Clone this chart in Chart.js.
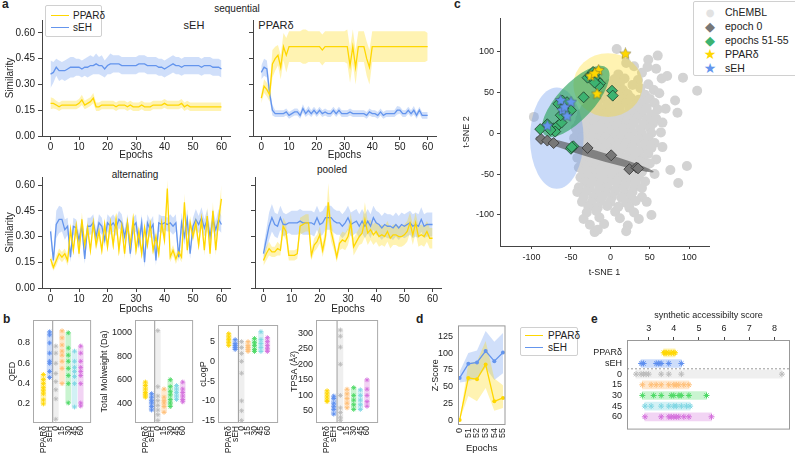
<!DOCTYPE html>
<html>
<head>
<meta charset="utf-8">
<title>Figure</title>
<script src="https://cdn.jsdelivr.net/npm/chart.js@4.4.1/dist/chart.umd.min.js"></script>
<style>
  body { margin: 0; width: 795px; height: 459px; position: relative; overflow: hidden; background: #fff;
         font-family: "Liberation Sans", Arial, sans-serif; color: #222; }
  canvas { position: absolute; }
  .txt { position: absolute; white-space: nowrap; transform: translate(-50%, -50%); font-size: 10px; }
  .panel { position: absolute; font-weight: bold; font-size: 12px; }
  .legend { position: absolute; border: 1px solid #d0d0d0; background: rgba(255,255,255,0.9); border-radius: 2px; }
  .legend div { position: absolute; white-space: nowrap; transform: translateY(-50%); }
  .legend .sym { font-family: "DejaVu Sans", sans-serif; transform: translate(-50%, -50%); }
  .legend .ln { height: 0; transform: none; }
</style>
</head>
<body>

<div class="panel" style="left:2px;top:-3px">a</div>
<div class="panel" style="left:3px;top:312px">b</div>
<div class="panel" style="left:454px;top:-3px">c</div>
<div class="panel" style="left:416px;top:312px">d</div>
<div class="panel" style="left:591px;top:312px">e</div>

<div class="txt" style="left:237px;top:8px">sequential</div>
<div class="txt" style="left:194px;top:25px;font-size:11px">sEH</div>
<div class="txt" style="left:276px;top:25px;font-size:11px">PPARδ</div>
<div class="txt" style="left:135px;top:174px">alternating</div>
<div class="txt" style="left:332px;top:169px">pooled</div>

<!-- legend panel a -->
<div class="legend" style="left:45px;top:5px;width:55px;height:30px;font-size:10px">
  <div class="ln" style="left:5px;top:9px;width:18px;border-top:1.5px solid #FFD700"></div>
  <div style="left:27px;top:9px">PPARδ</div>
  <div class="ln" style="left:5px;top:21px;width:18px;border-top:1.5px solid #6495ED"></div>
  <div style="left:27px;top:21px">sEH</div>
</div>

<!-- legend panel c -->
<div class="legend" style="left:693px;top:1px;width:110px;height:73px;font-size:10.5px">
  <div class="sym" style="left:16px;top:10px;color:#e2e2e2;font-size:10px">●</div>
  <div style="left:31px;top:10px">ChEMBL</div>
  <div class="sym" style="left:16px;top:24px;color:#777;font-size:13px">◆</div>
  <div style="left:31px;top:24px">epoch 0</div>
  <div class="sym" style="left:16px;top:38px;color:#3cb371;font-size:13px">◆</div>
  <div style="left:31px;top:38px">epochs 51-55</div>
  <div class="sym" style="left:16px;top:52px;color:#FFD700;font-size:14px">★</div>
  <div style="left:31px;top:52px">PPARδ</div>
  <div class="sym" style="left:16px;top:66px;color:#6495ED;font-size:14px">★</div>
  <div style="left:31px;top:66px">sEH</div>
</div>

<!-- legend panel d -->
<div class="legend" style="left:520px;top:327px;width:56px;height:27px;font-size:10px">
  <div class="ln" style="left:4px;top:7px;width:18px;border-top:1.5px solid #FFD700"></div>
  <div style="left:27px;top:7px">PPARδ</div>
  <div class="ln" style="left:4px;top:19px;width:18px;border-top:1.5px solid #6495ED"></div>
  <div style="left:27px;top:19px">sEH</div>
</div>

<script>
// ---------- data: panel a (similarity per epoch, mean and spread) ----------
const epochs = Array.from({ length: 61 }, (_, i) => i);
const epochTicks = [0, 10, 20, 30, 40, 50, 60];
const simTicks = [0, 0.15, 0.30, 0.45, 0.60];

const seqSehBlue = [0.36,0.37,0.40,0.38,0.38,0.38,0.39,0.40,0.40,0.40,
  0.40,0.39,0.40,0.40,0.41,0.41,0.42,0.41,0.41,0.39,
  0.41,0.42,0.42,0.42,0.42,0.41,0.41,0.41,0.41,0.41,
  0.41,0.42,0.42,0.42,0.41,0.41,0.41,0.41,0.40,0.40,
  0.39,0.40,0.41,0.42,0.41,0.41,0.40,0.41,0.41,0.41,
  0.41,0.41,0.41,0.40,0.41,0.41,0.41,0.40,0.40,0.40,0.39];
const seqSehBlueSd = [0.08,0.06,0.05,0.06,0.05,0.06,0.06,0.06,0.06,0.05,
  0.05,0.05,0.05,0.06,0.06,0.05,0.06,0.05,0.06,0.05,
  0.05,0.06,0.05,0.05,0.05,0.05,0.05,0.05,0.05,0.05,
  0.05,0.05,0.05,0.05,0.05,0.05,0.05,0.05,0.05,0.05,
  0.05,0.05,0.05,0.05,0.05,0.05,0.05,0.05,0.05,0.05,
  0.05,0.05,0.05,0.05,0.05,0.05,0.05,0.05,0.05,0.05,0.05];
const seqSehYellow = [0.19,0.19,0.18,0.17,0.18,0.18,0.18,0.18,0.18,0.18,
  0.19,0.21,0.18,0.19,0.20,0.22,0.17,0.17,0.18,0.18,
  0.18,0.18,0.18,0.17,0.18,0.18,0.18,0.17,0.18,0.17,
  0.17,0.17,0.18,0.17,0.17,0.17,0.18,0.18,0.18,0.18,
  0.19,0.18,0.18,0.18,0.18,0.18,0.19,0.17,0.18,0.17,
  0.17,0.17,0.17,0.17,0.17,0.17,0.17,0.17,0.17,0.17,0.17];
const seqSehYellowSd = [0.035,0.03,0.025,0.025,0.025,0.025,0.025,0.025,0.025,0.025,
  0.025,0.03,0.025,0.025,0.025,0.03,0.025,0.025,0.025,0.025,
  0.025,0.025,0.025,0.025,0.025,0.025,0.025,0.025,0.025,0.025,
  0.025,0.025,0.025,0.025,0.025,0.025,0.025,0.025,0.025,0.025,
  0.025,0.025,0.025,0.025,0.025,0.025,0.025,0.025,0.025,0.025,
  0.025,0.025,0.025,0.025,0.025,0.025,0.025,0.025,0.025,0.025,0.025];

const seqPparBlue = [0.37,0.40,0.39,0.25,0.15,0.13,0.13,0.13,0.13,0.14,
  0.12,0.13,0.14,0.14,0.12,0.16,0.13,0.15,0.13,0.15,
  0.13,0.15,0.13,0.14,0.13,0.13,0.15,0.13,0.15,0.13,
  0.13,0.13,0.14,0.13,0.13,0.13,0.13,0.13,0.12,0.14,
  0.13,0.13,0.12,0.14,0.12,0.13,0.13,0.13,0.13,0.15,
  0.15,0.13,0.13,0.15,0.13,0.15,0.12,0.15,0.12,0.12,0.12];
const seqPparBlueSd = [0.04,0.05,0.05,0.04,0.03,0.02,0.02,0.02,0.02,0.02,
  0.02,0.02,0.02,0.02,0.02,0.025,0.02,0.025,0.02,0.02,
  0.02,0.02,0.02,0.02,0.02,0.02,0.02,0.02,0.02,0.02,
  0.02,0.02,0.02,0.02,0.02,0.02,0.02,0.02,0.02,0.02,
  0.02,0.02,0.02,0.02,0.02,0.02,0.02,0.02,0.02,0.025,
  0.02,0.02,0.02,0.02,0.02,0.025,0.02,0.02,0.02,0.02,0.02];
const seqPparYellow = [0.22,0.29,0.27,0.24,0.42,0.45,0.47,0.40,0.52,0.47,
  0.52,0.52,0.52,0.52,0.52,0.52,0.52,0.52,0.52,0.52,
  0.52,0.52,0.50,0.52,0.52,0.52,0.52,0.52,0.52,0.52,
  0.52,0.52,0.41,0.52,0.40,0.52,0.52,0.52,0.45,0.40,
  0.52,0.52,0.52,0.52,0.52,0.52,0.52,0.52,0.52,0.52,
  0.52,0.52,0.52,0.52,0.52,0.52,0.52,0.52,0.52,0.52,0.52];
const seqPparYellowSd = [0.03,0.04,0.04,0.04,0.08,0.07,0.06,0.07,0.08,0.10,
  0.09,0.09,0.09,0.09,0.09,0.10,0.10,0.09,0.09,0.09,
  0.09,0.09,0.09,0.09,0.09,0.09,0.09,0.09,0.09,0.09,
  0.09,0.10,0.10,0.10,0.10,0.09,0.09,0.09,0.10,0.10,
  0.09,0.09,0.09,0.09,0.09,0.09,0.09,0.09,0.09,0.09,
  0.09,0.09,0.09,0.09,0.09,0.09,0.09,0.09,0.09,0.09,0.08];

const altBlue = [0.33,0.16,0.37,0.40,0.40,0.34,0.36,0.18,0.36,0.35,
  0.28,0.36,0.17,0.36,0.36,0.38,0.30,0.38,0.36,0.28,
  0.38,0.36,0.38,0.35,0.40,0.38,0.30,0.38,0.20,0.36,
  0.38,0.26,0.38,0.15,0.38,0.34,0.37,0.16,0.38,0.37,
  0.38,0.37,0.38,0.36,0.38,0.18,0.38,0.30,0.40,0.20,
  0.36,0.40,0.37,0.41,0.35,0.40,0.30,0.40,0.34,0.40,0.37];
const altBlueSd = [0.05,0.03,0.08,0.08,0.07,0.06,0.05,0.03,0.05,0.05,
  0.04,0.05,0.03,0.05,0.05,0.05,0.04,0.05,0.05,0.04,
  0.05,0.05,0.05,0.05,0.05,0.05,0.04,0.05,0.03,0.05,
  0.05,0.04,0.05,0.03,0.05,0.05,0.05,0.03,0.05,0.05,
  0.04,0.04,0.05,0.05,0.05,0.03,0.06,0.05,0.06,0.03,
  0.05,0.06,0.05,0.06,0.05,0.06,0.05,0.06,0.05,0.06,0.05];
const altYellow = [0.17,0.12,0.16,0.20,0.18,0.20,0.16,0.34,0.22,0.36,
  0.20,0.40,0.25,0.35,0.22,0.38,0.25,0.33,0.22,0.37,
  0.24,0.38,0.25,0.40,0.22,0.36,0.20,0.38,0.25,0.40,
  0.22,0.33,0.20,0.35,0.25,0.37,0.22,0.30,0.20,0.38,
  0.28,0.58,0.18,0.22,0.17,0.21,0.18,0.50,0.22,0.38,
  0.30,0.38,0.25,0.40,0.22,0.42,0.20,0.45,0.22,0.40,0.52];
const altYellowSd = [0.03,0.02,0.03,0.03,0.03,0.03,0.03,0.04,0.03,0.04,
  0.03,0.04,0.03,0.04,0.03,0.04,0.03,0.04,0.03,0.04,
  0.03,0.04,0.03,0.04,0.03,0.04,0.03,0.04,0.03,0.04,
  0.03,0.04,0.03,0.04,0.03,0.04,0.03,0.04,0.03,0.04,
  0.03,0.05,0.03,0.03,0.03,0.03,0.03,0.05,0.03,0.04,
  0.03,0.04,0.03,0.04,0.03,0.05,0.03,0.05,0.03,0.04,0.08];

const poolBlue = [0.20,0.28,0.36,0.41,0.37,0.36,0.41,0.37,0.37,0.38,
  0.38,0.38,0.38,0.39,0.38,0.38,0.38,0.38,0.37,0.41,
  0.37,0.38,0.41,0.41,0.41,0.39,0.38,0.38,0.36,0.38,
  0.41,0.37,0.38,0.39,0.36,0.39,0.36,0.39,0.36,0.41,
  0.38,0.37,0.35,0.37,0.36,0.36,0.35,0.37,0.35,0.37,
  0.36,0.37,0.38,0.36,0.37,0.36,0.40,0.36,0.37,0.37,0.37];
const poolBlueSd = [0.04,0.06,0.08,0.08,0.07,0.07,0.07,0.07,0.06,0.06,
  0.07,0.07,0.07,0.07,0.07,0.07,0.07,0.07,0.07,0.07,
  0.07,0.07,0.07,0.07,0.07,0.07,0.07,0.07,0.07,0.07,
  0.07,0.07,0.07,0.07,0.07,0.07,0.07,0.07,0.07,0.07,
  0.07,0.07,0.07,0.07,0.07,0.07,0.07,0.07,0.07,0.07,
  0.07,0.07,0.07,0.07,0.07,0.07,0.07,0.07,0.07,0.07,0.07];
const poolYellow = [0.16,0.20,0.23,0.21,0.21,0.23,0.22,0.36,0.33,0.19,
  0.19,0.19,0.20,0.36,0.37,0.38,0.38,0.19,0.25,0.27,
  0.31,0.22,0.30,0.50,0.33,0.26,0.18,0.26,0.28,0.27,
  0.30,0.38,0.24,0.27,0.30,0.32,0.40,0.32,0.34,0.31,
  0.33,0.30,0.31,0.30,0.33,0.29,0.31,0.31,0.30,0.30,
  0.31,0.33,0.38,0.31,0.38,0.30,0.31,0.30,0.33,0.29,0.29];
const poolYellowSd = [0.03,0.04,0.04,0.03,0.03,0.04,0.03,0.05,0.05,0.03,
  0.03,0.03,0.03,0.05,0.05,0.05,0.05,0.03,0.04,0.04,
  0.05,0.04,0.05,0.11,0.06,0.04,0.03,0.04,0.05,0.05,
  0.05,0.06,0.05,0.05,0.05,0.06,0.10,0.07,0.06,0.06,
  0.06,0.06,0.06,0.06,0.06,0.06,0.06,0.06,0.06,0.06,
  0.06,0.06,0.06,0.06,0.06,0.06,0.06,0.06,0.06,0.06,0.06];

// ---------- data: panel b (properties per group) ----------
const bCats = ['PPARδ', 'sEH', '0', '15', '30', '45', '60'];
const qedVals = [
  [0.20,0.24,0.30,0.33,0.36,0.40,0.44,0.49],
  [0.46,0.52,0.60,0.62,0.70,0.80,0.88,0.91],
  [0.05,0.25,0.34,0.42,0.50,0.60,0.70,0.77],
  [0.40,0.55,0.62,0.68,0.72,0.78,0.85,0.92],
  [0.21,0.40,0.48,0.55,0.62,0.68,0.75,0.90],
  [0.17,0.40,0.47,0.52,0.56,0.62,0.72],
  [0.18,0.21,0.40,0.48,0.52,0.56,0.62,0.70,0.77]];
const molVals = [
  [450,470,490,520,550,580],
  [340,370,400,420,450,480],
  [250,300,340,380,420,460,540,1020],
  [320,370,400,420,450,520],
  [370,400,430,470,500,540,600],
  [430,460,490,520,550],
  [410,430,460,490,520,580]];
const clogpVals = [
  [4.0,4.8,5.5,6.2,7.0],
  [3.0,3.5,4.0,4.5,5.5],
  [-15,-12.5,-10,-3,0,2,3.5,5],
  [2.5,3.0,3.5,4.0,5.0],
  [2.5,3.0,4.0,4.8,5.8],
  [2.5,3.5,4.5,5.5,7.5],
  [2.5,3.2,4.0,5.0,6.0]];
const tpsaVals = [
  [80,85,95,105,115],
  [40,55,65,75,90,98],
  [20,30,45,60,100,200,255,290,310],
  [60,75,90,105,120],
  [55,70,85,100,125],
  [55,70,85,100,118],
  [65,80,100,120,150]];
const qedTicks = [0.2, 0.4, 0.6, 0.8];
const molTicks = [400, 600, 800, 1000];
const clogpTicks = [-15, -10, -5, 0, 5];
const tpsaTicks = [50, 100, 150, 200, 250, 300];

// ---------- data: panel c (t-SNE) ----------
const tsneTicks = [-100, -50, 0, 50, 100];
const chemblPts = [
  [8,103],[60,95],[48,90],[20,86],[47,81],[58,79],[30,82],
  [10,72],[40,74],[72,70],[92,68],[5,66],[18,67],[35,65],[65,67],
  [-2,60],[12,61],[28,59],[48,60],
  [-8,54],[4,55],[16,53],[38,55],[55,53],[110,52],
  [-14,48],[0,49],[10,47],[22,48],[44,47],[62,49],
  [-22,42],[-10,43],[2,41],[14,42],[26,43],[36,41],[50,42],[82,40],
  [-28,36],[-16,37],[-4,35],[8,36],[20,37],[32,35],[42,36],[56,37],
  [-32,30],[-22,31],[-12,29],[0,30],[12,31],[24,29],[34,30],[46,31],[60,29],[70,30],
  [-36,24],[-26,25],[-16,23],[-6,24],[6,25],[16,23],[28,24],[40,25],[52,23],[85,25],
  [-38,18],[-28,19],[-18,17],[-8,18],[2,19],[12,17],[22,18],[34,19],[46,17],[58,18],
  [-40,12],[-30,13],[-20,11],[-10,12],[0,13],[10,11],[20,12],[30,13],[42,11],[54,12],[66,13],
  [-44,6],[-34,7],[-24,5],[-14,6],[-4,7],[6,5],[16,6],[26,7],[38,5],[50,6],
  [-42,0],[-32,1],[-22,-1],[-12,0],[-2,1],[8,-1],[18,0],[28,1],[40,-1],[52,0],[64,1],
  [-46,-6],[-36,-5],[-26,-7],[-16,-6],[-6,-5],[4,-7],[14,-6],[24,-5],[36,-7],[48,-6],
  [-40,-12],[-30,-11],[-20,-13],[-10,-12],[0,-11],[10,-13],[20,-12],[32,-11],[44,-13],[56,-12],
  [-44,-18],[-34,-17],[-24,-19],[-14,-18],[-4,-17],[6,-19],[16,-18],[28,-17],[40,-19],[52,-18],[66,-17],
  [-38,-24],[-28,-23],[-18,-25],[-8,-24],[2,-23],[12,-25],[24,-24],[36,-23],[48,-25],
  [-42,-30],[-32,-29],[-22,-31],[-12,-30],[-2,-29],[8,-31],[18,-30],[30,-29],[42,-31],[58,-32],
  [-36,-36],[-26,-35],[-16,-37],[-6,-36],[4,-35],[14,-37],[26,-36],[38,-35],[50,-37],[97,-40],
  [-40,-42],[-30,-41],[-20,-43],[-10,-42],[0,-41],[10,-43],[20,-42],[44,-41],[76,-45],
  [-34,-48],[-24,-47],[-14,-49],[-4,-48],[6,-47],[16,-49],[28,-48],[40,-47],[56,-50],
  [-38,-54],[-28,-53],[-18,-55],[-8,-54],[2,-53],[12,-55],[24,-54],[36,-53],
  [-32,-60],[-22,-59],[-12,-61],[-2,-60],[8,-59],[20,-61],[32,-60],[44,-59],[86,-61],
  [-40,-66],[-26,-67],[-14,-65],[-4,-66],[8,-67],[18,-65],[30,-66],[40,-67],
  [-42,-72],[-30,-71],[-18,-73],[-6,-72],[6,-71],[18,-73],[28,-72],
  [-34,-78],[-22,-79],[-10,-77],[2,-78],[14,-79],[26,-77],[40,-78],
  [-36,-84],[-24,-85],[-12,-83],[0,-84],[20,-85],[32,-83],[46,-84],
  [-28,-90],[-16,-91],[-4,-89],[10,-90],[24,-91],
  [-30,-97],[-18,-95],[6,-96],[30,-97],[52,-100],
  [-34,-105],[-14,-103],[12,-104],[36,-105],
  [-26,-112],[-8,-111],[22,-113],
  [-20,-121],[-16,-118],[20,-120],[-97,20]];
const epoch0Pts = [[-88,-7],[-80,-9],[-72,-12],[-29,-18],[1,-27],[24,-44],[33,-42],[35,-43]];
const epoch5155Pts = [[-89,5],[-80,11],[-72,6],[-67,9],[-62,13],[-70,2],[-76,4],[-63,22],
  [-66,36],[-61,40],[-55,38],[-57,30],[-50,28],[-60,30],[-58,25],[-34,44],[-29,68],[-25,70],
  [-22,75],[-19,73],[-17,65],[-13,61],[-15,58],[-20,62],[2,52],[3,46],[-47,-16],[-50,-19],[-49,-17]];
const pparPts = [[19,97],[-15,77],[-25,70],[-17,48],[-20,73]];
const sehPts = [[-63,40],[-50,38],[-61,28],[-55,21],[-80,9],[-58,32]];
// confidence ellipses: centre, semi-axes, rotation (deg)
const ellCenters = [[-68, -6], [-3, 59], [-44, 39], [-20, -26]];
const ellRadii = [[34, 62], [44, 39], [58, 22], [78, 5]];
const ellAngles = [0, 0, -47, 16.5];
const ellColors = ['rgba(100,149,237,0.35)', 'rgba(255,215,0,0.30)', 'rgba(46,165,95,0.65)', 'rgba(85,85,85,0.65)'];

// ---------- data: panel d (Z-score) ----------
const dCats = ['0', '51', '52', '53', '54', '55'];
const dSehMean = [63, 84, 86, 103, 88, 101];
const dSehLo = [56, 58, 62, 78, 60, 70];
const dSehHi = [72, 100, 104, 133, 117, 130];
const dPparMean = [0, 63, 61, 83, 28, 33];
const dPparLo = [0, 36, 28, 48, 14, 18];
const dPparHi = [0, 85, 88, 118, 62, 52];
const dTicks = [0, 25, 50, 75, 100, 125];

// ---------- data: panel e (synthetic accessibility) ----------
const eCats = ['PPARδ', 'sEH', '0', '15', '30', '45', '60'];
const eVals = [
  [3.6,3.65,3.7,3.8,3.9,4.0,4.05],
  [2.7,2.8,3.3,3.4,3.5,3.8,4.3],
  [2.5,2.7,2.8,2.9,3.0,3.5,3.8,4.3,8.3],
  [2.75,3.1,3.3,3.5,3.8,4.0,4.1,4.2,4.4,4.6],
  [2.75,3.2,3.5,3.9,4.0,4.2,4.3,4.6,5.3],
  [2.85,3.1,3.5,3.8,4.0,4.1,4.3,4.5,4.65],
  [2.85,3.5,3.8,3.9,4.0,4.1,4.2,4.4,4.6,5.5]];
const eTicks = [3, 4, 5, 6, 7, 8];

// ---------- styles ----------
const YELLOW = '#FFD700', BLUE = '#6495ED';
const YELLOW_FILL = 'rgba(255,215,0,0.3)', BLUE_FILL = 'rgba(100,149,237,0.3)';
const catColors = ['#FFD700', '#5B8DEF', '#BBBBBB', '#FFBE76', '#4CD964', '#7FD6E3', '#D46FDC'];
const catBands = ['rgba(255,215,0,0.3)', 'rgba(91,141,239,0.3)', 'rgba(190,190,190,0.25)', 'rgba(255,190,118,0.35)',
                  'rgba(76,217,100,0.3)', 'rgba(127,214,227,0.35)', 'rgba(212,111,220,0.3)'];
const catIdx = [0, 1, 2, 3, 4, 5, 6];

Chart.defaults.font.family = '"Liberation Sans", Arial, sans-serif';
Chart.defaults.font.size = 10;
Chart.defaults.color = '#222';
Chart.defaults.animation = false;
Chart.defaults.responsive = false;
Chart.defaults.plugins.legend.display = false;
Chart.defaults.plugins.tooltip.enabled = false;

function makeCanvas(left, top, width, height) {
  const c = document.createElement('canvas');
  c.style.left = left + 'px';
  c.style.top = top + 'px';
  c.width = width;
  c.height = height;
  document.body.appendChild(c);
  return c;
}

// linear axis with fixed box size and given tick values
function axis(o) {
  const tl = o.tickLen === undefined ? 4 : o.tickLen;
  const tp = o.titlePad === undefined ? 4 : o.titlePad;
  return {
    type: 'linear',
    position: o.position,
    min: o.min, max: o.max,
    reverse: !!o.reverse,
    afterBuildTicks: s => { s.ticks = o.ticks.map(v => ({ value: v })); },
    afterFit: s => { s[o.dim] = o.size; },
    ticks: {
      display: o.show !== false,
      autoSkip: false,
      padding: o.pad === undefined ? 3 : o.pad,
      font: { size: o.fontSize || 10 },
      color: '#222',
      minRotation: o.rot || 0,
      maxRotation: o.rot || 0,
      callback: o.fmt || (v => v)
    },
    grid: { display: true, drawOnChartArea: false, drawTicks: tl > 0, tickLength: tl, color: '#444' },
    border: { display: o.border !== false, color: '#444' },
    title: o.title
      ? { display: true, text: o.title, color: '#222', font: { size: o.titleSize || 10 }, padding: { top: tp, bottom: tp } }
      : { display: false }
  };
}

function framePlugin(color) {
  return {
    id: 'frame',
    afterDatasetsDraw(chart) {
      const { ctx, chartArea: a } = chart;
      ctx.save();
      ctx.strokeStyle = color;
      ctx.lineWidth = 1;
      ctx.strokeRect(a.left + 0.5, a.top + 0.5, a.right - a.left - 1, a.bottom - a.top - 1);
      ctx.restore();
    }
  };
}

function dividerPlugin(axisId, value, color, dash) {
  return {
    id: 'divider',
    beforeDatasetsDraw(chart) {
      const { ctx, chartArea: a } = chart;
      const p = chart.scales[axisId].getPixelForValue(value);
      ctx.save();
      ctx.strokeStyle = color;
      ctx.lineWidth = 1;
      ctx.setLineDash(dash || []);
      ctx.beginPath();
      if (axisId === 'x') { ctx.moveTo(p, a.top); ctx.lineTo(p, a.bottom); }
      else { ctx.moveTo(a.left, p); ctx.lineTo(a.right, p); }
      ctx.stroke();
      ctx.restore();
    }
  };
}

// ---------- panel a ----------
function simChart(box, pad, yellow, yellowSd, blue, blueSd, showY, yMax, xTitlePad) {
  const pts = arr => arr.map((v, i) => ({ x: epochs[i], y: v }));
  const edge = (m, s, sign) => m.map((v, i) => ({ x: epochs[i], y: v + sign * s[i] }));
  const hidden = { borderColor: 'rgba(0,0,0,0)', borderWidth: 0, pointRadius: 0 };
  new Chart(makeCanvas(...box), {
    type: 'line',
    data: {
      datasets: [
        { data: pts(yellow), borderColor: YELLOW, borderWidth: 1.3, pointRadius: 0 },
        { data: pts(blue), borderColor: BLUE, borderWidth: 1.3, pointRadius: 0 },
        { data: edge(yellow, yellowSd, 1), ...hidden },
        { data: edge(yellow, yellowSd, -1), ...hidden, fill: '-1', backgroundColor: YELLOW_FILL },
        { data: edge(blue, blueSd, 1), ...hidden },
        { data: edge(blue, blueSd, -1), ...hidden, fill: '-1', backgroundColor: BLUE_FILL }
      ]
    },
    options: {
      layout: { padding: { top: pad[0], right: pad[1], left: 0, bottom: 0 } },
      elements: { line: { tension: 0 } },
      scales: {
        x: axis({ min: -3, max: 63, ticks: epochTicks, dim: 'height', size: pad[2], pad: 1,
                  title: 'Epochs', titlePad: xTitlePad }),
        y: axis({ min: 0, max: yMax, ticks: simTicks, dim: 'width', size: pad[3], show: showY,
                  title: showY ? 'Similarity' : null, titlePad: 4, fmt: v => v.toFixed(2) })
      }
    }
  });
}

simChart([0, 0, 236, 166], [20, 6, 30, 42], seqSehYellow, seqSehYellowSd, seqSehBlue, seqSehBlueSd, true, 0.675, 5);
simChart([247, 0, 195, 166], [20, 6, 30, 6], seqPparYellow, seqPparYellowSd, seqPparBlue, seqPparBlueSd, false, 0.675, 5);
simChart([0, 157, 236, 162], [20, 6, 31, 42], altYellow, altYellowSd, altBlue, altBlueSd, true, 0.647, 4);
simChart([249, 157, 198, 162], [20, 6, 31, 6], poolYellow, poolYellowSd, poolBlue, poolBlueSd, false, 0.647, 4);

// ---------- panel b ----------
function stripChart(box, pad, vals, range, ticks, title, titlePad) {
  const stars = [], starCols = [];
  vals.forEach((arr, i) => arr.forEach(v => { stars.push({ x: i, y: v }); starCols.push(catColors[i]); }));
  new Chart(makeCanvas(...box), {
    type: 'scatter',
    data: {
      datasets: [
        { data: stars, pointStyle: 'star', pointRadius: 2.4, pointBorderColor: starCols, pointBorderWidth: 0.9 },
        { type: 'bar', data: vals.map((arr, i) => ({ x: i, y: [Math.min(...arr), Math.max(...arr)] })),
          backgroundColor: catBands, barThickness: 5 }
      ]
    },
    options: {
      layout: { padding: { top: pad[0], right: pad[1], left: 0, bottom: 0 } },
      scales: {
        x: axis({ min: -1, max: 7, ticks: catIdx, dim: 'height', size: pad[2], rot: 90, tickLen: 0,
                  border: false, fontSize: 8.5, fmt: v => bCats[v] }),
        y: axis({ min: range[0], max: range[1], ticks: ticks, dim: 'width', size: pad[3], tickLen: 0,
                  border: false, fontSize: 9, title: title, titleSize: 9, titlePad: titlePad })
      }
    },
    plugins: [framePlugin('#aaa'), dividerPlugin('x', 1.5, '#999')]
  });
}

stripChart([0, 310, 96, 149], [10, 1, 36, 33], qedVals, [0.013, 1.026], qedTicks, 'QED', 7.5);
stripChart([96, 310, 102, 149], [10, 1, 36, 39], molVals, [229, 1111], molTicks, 'Total Molweight (Da)', 3.5);
stripChart([198, 315, 85, 144], [10, 1, 36, 20], clogpVals, [-15.6, 9.2], clogpTicks, 'cLogP', 0.5);
stripChart([283, 310, 100, 149], [10, 1, 36, 33], tpsaVals, [11.5, 342], tpsaTicks, 'TPSA (Å²)', 6.5);

// ---------- panel c ----------
function starImage(fill, size) {
  const c = document.createElement('canvas');
  c.width = c.height = size;
  const g = c.getContext('2d');
  const r = size / 2;
  g.beginPath();
  for (let k = 0; k < 10; k++) {
    const rr = k % 2 ? r * 0.45 : r - 0.6;
    const ang = -Math.PI / 2 + k * Math.PI / 5;
    g.lineTo(r + rr * Math.cos(ang), r + rr * Math.sin(ang));
  }
  g.closePath();
  g.fillStyle = fill;
  g.fill();
  g.strokeStyle = 'rgba(60,60,60,0.6)';
  g.lineWidth = 0.6;
  g.stroke();
  return c;
}

const ellipsePlugin = {
  id: 'ellipses',
  afterDatasetDraw(chart, args) {
    if (args.index !== 4) return;
    const { ctx, chartArea: a, scales: { x, y } } = chart;
    ctx.save();
    ctx.beginPath();
    ctx.rect(a.left, a.top, a.right - a.left, a.bottom - a.top);
    ctx.clip();
    ellCenters.forEach((c, i) => {
      const cx = x.getPixelForValue(c[0]), cy = y.getPixelForValue(c[1]);
      const rx = Math.abs(x.getPixelForValue(c[0] + ellRadii[i][0]) - cx);
      const ry = Math.abs(y.getPixelForValue(c[1] + ellRadii[i][1]) - cy);
      ctx.beginPath();
      ctx.ellipse(cx, cy, rx, ry, ellAngles[i] * Math.PI / 180, 0, Math.PI * 2);
      ctx.fillStyle = ellColors[i];
      ctx.fill();
    });
    ctx.restore();
  }
};

const toXY = arr => arr.map(p => ({ x: p[0], y: p[1] }));
new Chart(makeCanvas(455, 8, 265, 276), {
  type: 'scatter',
  data: {
    datasets: [
      { data: toXY(sehPts), pointStyle: starImage(BLUE, 13) },
      { data: toXY(pparPts), pointStyle: starImage(YELLOW, 13) },
      { data: toXY(epoch5155Pts), pointStyle: 'rectRot', pointRadius: 5.5,
        pointBackgroundColor: '#3cb371', pointBorderColor: '#1d3b28', pointBorderWidth: 0.8 },
      { data: toXY(epoch0Pts), pointStyle: 'rectRot', pointRadius: 5.5,
        pointBackgroundColor: '#777', pointBorderColor: '#333', pointBorderWidth: 0.8 },
      { data: toXY(chemblPts), pointRadius: 5, pointBackgroundColor: '#d3d3d3', pointBorderWidth: 0 }
    ]
  },
  options: {
    layout: { padding: { top: 10, right: 11, left: 0, bottom: 0 } },
    scales: {
      x: axis({ min: -140, max: 125, ticks: tsneTicks, dim: 'height', size: 38, tickLen: 3, fontSize: 9,
                title: 't-SNE 1', titleSize: 9, titlePad: 5.6 }),
      y: axis({ min: -138, max: 141, ticks: tsneTicks, dim: 'width', size: 45, tickLen: 3, fontSize: 9,
                title: 't-SNE 2', titleSize: 9, titlePad: 6.6 })
    }
  },
  plugins: [ellipsePlugin]
});

// ---------- panel d ----------
const dxy = arr => arr.map((v, i) => ({ x: i, y: v }));
const hiddenD = { borderColor: 'rgba(0,0,0,0)', borderWidth: 0, pointRadius: 0 };
new Chart(makeCanvas(424, 315, 93, 144), {
  type: 'line',
  data: {
    datasets: [
      { data: dxy(dPparMean), borderColor: YELLOW, borderWidth: 1.3, pointRadius: 2,
        pointBackgroundColor: YELLOW, pointBorderWidth: 0 },
      { data: dxy(dSehMean), borderColor: BLUE, borderWidth: 1.3, pointRadius: 2,
        pointBackgroundColor: BLUE, pointBorderWidth: 0 },
      { data: dxy(dPparHi), ...hiddenD },
      { data: dxy(dPparLo), ...hiddenD, fill: '-1', backgroundColor: YELLOW_FILL },
      { data: dxy(dSehHi), ...hiddenD },
      { data: dxy(dSehLo), ...hiddenD, fill: '-1', backgroundColor: BLUE_FILL }
    ]
  },
  options: {
    layout: { padding: { top: 10, right: 2, left: 0, bottom: 0 } },
    elements: { line: { tension: 0 } },
    scales: {
      x: axis({ min: -0.19, max: 5.29, ticks: [0, 1, 2, 3, 4, 5], dim: 'height', size: 34, rot: 90,
                tickLen: 0, border: false, fontSize: 9, fmt: v => dCats[v],
                title: 'Epochs', titleSize: 9.5, titlePad: 5 }),
      y: axis({ min: -7.4, max: 141.4, ticks: dTicks, dim: 'width', size: 34, tickLen: 0, pad: 5,
                border: false, fontSize: 9, title: 'Z-Score', titleSize: 9, titlePad: 6.3 })
    }
  },
  plugins: [framePlugin('#999')]
});

// ---------- panel e ----------
const eStars = [], eStarCols = [];
eVals.forEach((arr, i) => arr.forEach(v => { eStars.push({ x: v, y: i }); eStarCols.push(catColors[i]); }));
new Chart(makeCanvas(588, 300, 207, 140), {
  type: 'scatter',
  data: {
    datasets: [
      { data: eStars, pointStyle: 'star', pointRadius: 3, pointBorderColor: eStarCols, pointBorderWidth: 1 },
      { type: 'bar', indexAxis: 'y', data: eVals.map((arr, i) => ({ y: i, x: [Math.min(...arr), Math.max(...arr)] })),
        backgroundColor: catBands, barThickness: 8 }
    ]
  },
  options: {
    layout: { padding: { top: 0, right: 2, left: 0, bottom: 3 } },
    scales: {
      x: axis({ position: 'top', min: 2.14, max: 8.62, ticks: eTicks, dim: 'height', size: 40, tickLen: 3,
                border: false, fontSize: 9, title: 'synthetic accessibilty score', titleSize: 9, titlePad: 10.6 }),
      y: axis({ min: -0.6, max: 6.6, reverse: true, ticks: catIdx, dim: 'width', size: 39, tickLen: 0, pad: 5,
                border: false, fontSize: 9, fmt: v => eCats[v] })
    }
  },
  plugins: [framePlugin('#999'), dividerPlugin('y', 1.5, '#999', [2, 2])]
});
</script>
</body>
</html>
